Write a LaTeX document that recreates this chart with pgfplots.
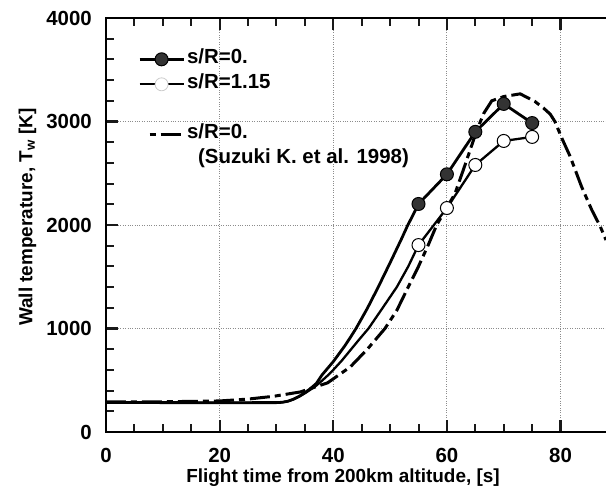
\documentclass[border=0pt]{standalone}
\usepackage{fontspec}
\setmainfont{Liberation Sans}
\usepackage{pgfplots}
\pgfplotsset{compat=1.18}
\tikzset{suzuki/.style={line width=3bp, dash pattern=on 20bp off 5bp on 6bp off 5bp}}
\pgfplotsset{suzukileg/.style={legend image code/.code={\draw[##1, dash phase=25bp] (10bp,0bp) -- (44bp,0bp);}}}
\begin{document}
\begin{tikzpicture}
\path[use as bounding box] (-106bp,-60bp) rectangle (500bp,432bp);
\begin{axis}[
 scale only axis, width=503.98bp, height=414bp,
 xmin=0, xmax=88.7, ymin=0, ymax=4000,
 axis line style={line width=1.8bp},
 tick align=inside, xtick pos=both, ytick pos=left,
 xtick={0,20,40,60,80}, minor x tick num=3,
 ytick={0,1000,2000,3000,4000}, minor y tick num=4,
 major tick length=12bp, minor tick length=8bp,
 every major tick/.append style={draw=black!90, line width=2.2bp},
 every minor tick/.append style={draw=black!90, line width=2bp},
 grid=major, major grid style={dotted, line width=0.9bp, black!45},
 /pgf/number format/assume math mode=true,
 /pgf/number format/1000 sep={},
 ticklabel style={font=\fontsize{20.5}{20.5}\selectfont\bfseries},
 xticklabel style={anchor=base, yshift=-30.5bp, inner sep=0pt},
 yticklabel style={anchor=east, xshift=-14bp, inner sep=0pt},
 xlabel={Flight time from 200km altitude, [s]},
 ylabel={Wall temperature, T\textsubscript{w} [K]},
 label style={font=\fontsize{19}{19}\selectfont\bfseries},
 xlabel style={at={(axis description cs:0.4703,-0.1208)}, anchor=base},
 ylabel style={at={(axis description cs:-0.1462,0.519)}, anchor=base},
 legend style={at={(axis description cs:0.0635,0.920)}, anchor=north west, draw=none, fill=none, inner sep=0pt, row sep=9bp,
   font=\fontsize{20.5}{20.5}\selectfont\bfseries,
   nodes={text height=12bp, text depth=4bp, inner ysep=0pt, inner xsep=2bp}},
 legend cell align=left,
 legend image code/.code={\draw[mark repeat=2,mark phase=2,#1] plot coordinates {(0bp,0bp) (22bp,0bp) (44bp,0bp)};},
]
% Suzuki et al. 1998
\addplot[suzuki, black, forget plot] coordinates {
(0,290) (10,292) (20,300) (25,318) (29.5,345) (34.2,387) (39,475) (43,629) (46,800)
(49.1,1000) (51.2,1177) (53.2,1402) (55,1600) (56.7,1805) (58.2,2000) (60,2170)
(61.4,2300) (63,2550) (64.4,2775) (65.3,2920) (66.5,3080) (67.9,3200) (70,3241)
(72.9,3267) (75.5,3193) (77,3130) (78.2,3070) (79,3000) (80.3,2830) (81.7,2661)
(83.7,2370) (85.5,2145) (87,1984) (88,1855)
};
% s/R = 0
\addplot[black, line width=2.8bp, mark=*, mark size=6.5bp, mark indices={27,28,29,30,31},
  mark options={solid, fill=black!80, draw=black, line width=1bp},
  legend image post style={mark indices={2}}] coordinates {
(0,285) (10,284) (20,283) (30,284) (31,287) (32,297) (33,317) (34,345) (35,380) (36,420)
(37,468) (38,550) (39,615) (40,680) (41,755) (42,830) (43,913) (44,1000) (45,1097) (46,1195)
(47,1302) (48,1410) (50,1635) (51,1750) (52,1865) (53,1985) (55,2203) (60,2490) (65,2900)
(70,3170) (75,2985)
};
\addlegendentry{s/R=0.}
% s/R = 1.15
\addplot[black, line width=2.3bp, mark=*, mark size=6.5bp, mark indices={22,23,24,25,26},
  mark options={solid, fill=white, draw=black, line width=1bp},
  legend image post style={mark indices={2}, mark options={solid, fill=white, draw=black!20, line width=0.8bp}}] coordinates {
(0,285) (10,284) (20,283) (30,284) (31,287) (32,297) (33,316) (34,342) (35,374) (36,410)
(37,448) (38,495) (39,545) (40,600) (41.5,690) (43,790) (44.5,890) (46.2,1000) (48.7,1200)
(51.2,1402) (53.2,1600) (55,1806) (60,2164) (65,2580) (70,2812) (75,2851)
};
\addlegendentry{s/R=1.15}
\addlegendimage{empty legend}
\addlegendentry{}
\addlegendimage{suzuki, black, suzukileg}
\addlegendentry{s/R=0.}
\addlegendimage{empty legend}
\addlegendentry{\hspace*{11bp}(Suzuki K. et al. 1998)}
\end{axis}
\end{tikzpicture}
\end{document}
